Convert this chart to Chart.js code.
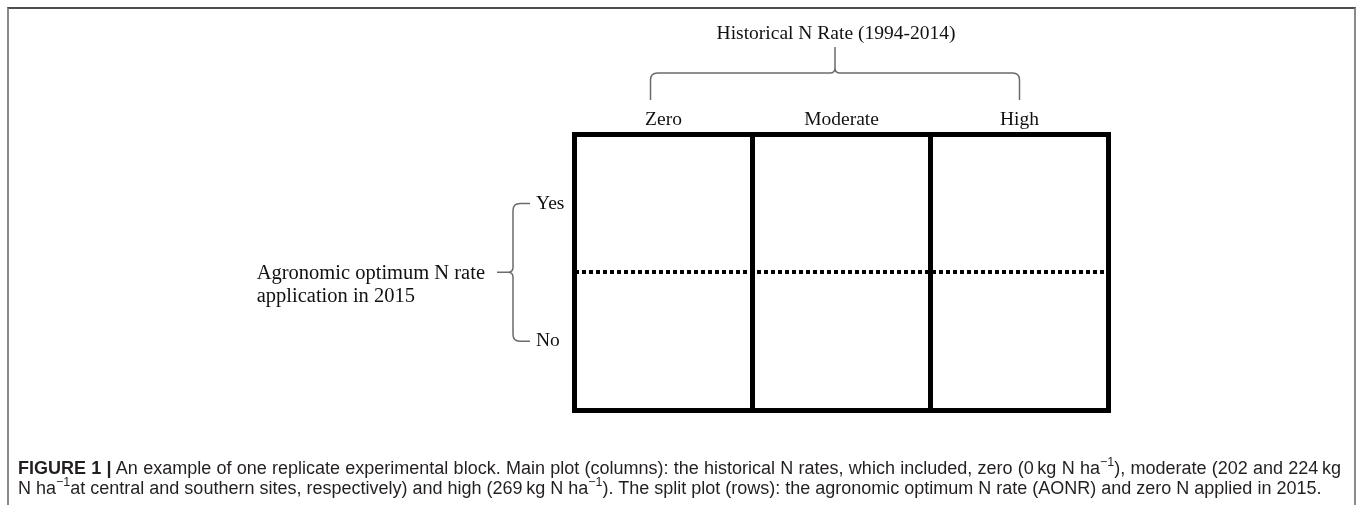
<!DOCTYPE html>
<html>
<head>
<meta charset="utf-8">
<title>Experimental block layout</title>
<script src="https://cdn.jsdelivr.net/npm/chart.js@4.4.0/dist/chart.umd.min.js"></script>
<style>
  html, body { margin: 0; padding: 0; background: #fff; }
  #wrap { position: relative; width: 1358px; height: 505px; overflow: hidden; }
  #chart-box { position: absolute; left: 0; top: 0; width: 1358px; height: 505px; }
  #frame {
    position: absolute; left: 7px; top: 7px; width: 1349px; height: 600px;
    box-sizing: border-box;
    border-top: 2px solid #4f4f4f;
    border-left: 2px solid #8a8a8a;
    border-right: 2px solid #8a8a8a;
    pointer-events: none;
  }
  #caption {
    position: absolute; left: 18px; top: 458px; width: 1323px;
    font-family: 'Liberation Sans', Arial, sans-serif; font-size: 18px;
    line-height: 20px; color: #231f20;
  }
  #caption .l1 { text-align: justify; text-align-last: justify; white-space: nowrap; }
  #caption .l2 { white-space: nowrap; }
  #caption sup { font-size: 12.5px; line-height: 0; position: relative; top: -1px; }
</style>
</head>
<body>
<div id="wrap">
  <div id="chart-box"><canvas id="blockChart"></canvas></div>
  <div id="frame"></div>
  <div id="caption">
    <div class="l1"><b>FIGURE 1 |</b> An example of one replicate experimental block. Main plot (columns): the historical N rates, which included, zero (0&thinsp;kg N ha<sup>−1</sup>), moderate (202 and 224&thinsp;kg</div>
    <div class="l2">N ha<sup>−1</sup>at central and southern sites, respectively) and high (269&thinsp;kg N ha<sup>−1</sup>). The split plot (rows): the agronomic optimum N rate (AONR) and zero N applied in 2015.</div>
  </div>
</div>
<script>
// --- Data ---
const columns = ['Zero', 'Moderate', 'High'];           // main plot: historical N rate
const rows = ['Yes', 'No'];                              // split plot: AONR applied in 2015
const columnTitle = 'Historical N Rate (1994-2014)';
const rowTitle = ['Agronomic optimum N rate', 'application in 2015'];

// one (invisible) point per plot cell so the scales have something to hold
const cells = columns.flatMap(c => rows.map(r => ({ x: c, y: r })));

const SERIF = "'Liberation Serif', 'Times New Roman', serif";
const BRACE_COLOR = '#6b6b6b';

// --- Braces + titles drawn off the scales ---
const bracesPlugin = {
  id: 'braces',
  afterDraw(chart) {
    const { ctx, chartArea, scales: { x, y } } = chart;
    ctx.save();
    ctx.strokeStyle = BRACE_COLOR;
    ctx.lineWidth = 1.5;
    ctx.lineJoin = 'round';
    ctx.fillStyle = '#111';

    // top brace over the three columns
    const left = x.getPixelForValue(0) - 13;
    const right = x.getPixelForValue(columns.length - 1);
    const mid = (left + right) / 2;
    const yEnd = chartArea.top - 34.5;
    const yBar = chartArea.top - 61.5;
    const yTip = chartArea.top - 87.5;
    const r = 7, rc = 5;
    ctx.beginPath();
    ctx.moveTo(left, yEnd);
    ctx.lineTo(left, yBar + r);
    ctx.quadraticCurveTo(left, yBar, left + r, yBar);
    ctx.lineTo(mid - rc, yBar);
    ctx.quadraticCurveTo(mid, yBar, mid, yBar - rc);
    ctx.lineTo(mid, yTip);
    ctx.moveTo(mid, yBar - rc);
    ctx.quadraticCurveTo(mid, yBar, mid + rc, yBar);
    ctx.lineTo(right - r, yBar);
    ctx.quadraticCurveTo(right, yBar, right, yBar + r);
    ctx.lineTo(right, yEnd);
    ctx.stroke();

    ctx.font = '19.5px ' + SERIF;
    ctx.textAlign = 'center';
    ctx.textBaseline = 'alphabetic';
    ctx.fillText(columnTitle, mid + 1, chartArea.top - 96);

    // left brace joining the two rows
    const xV = chartArea.left - 61.5;
    const yTop = y.getPixelForValue(0);
    const yBot = y.getPixelForValue(rows.length - 1);
    const yMid = (yTop + yBot) / 2;
    const stub = xV + 17, tipX = xV - 16;
    ctx.beginPath();
    ctx.moveTo(stub, yTop);
    ctx.lineTo(xV + r, yTop);
    ctx.quadraticCurveTo(xV, yTop, xV, yTop + r);
    ctx.lineTo(xV, yMid - rc);
    ctx.quadraticCurveTo(xV, yMid, xV - rc, yMid);
    ctx.lineTo(tipX, yMid);
    ctx.moveTo(xV - rc, yMid);
    ctx.quadraticCurveTo(xV, yMid, xV, yMid + rc);
    ctx.lineTo(xV, yBot - r);
    ctx.quadraticCurveTo(xV, yBot, xV + r, yBot);
    ctx.lineTo(stub, yBot);
    ctx.stroke();

    ctx.font = '20.5px ' + SERIF;
    ctx.textAlign = 'left';
    const textX = tipX - 12 - ctx.measureText(rowTitle[0]).width;
    ctx.fillText(rowTitle[0], textX, yMid + 7);
    ctx.fillText(rowTitle[1], textX, yMid + 30);
    ctx.restore();
  }
};

// --- Chart ---
const ctx = document.getElementById('blockChart').getContext('2d');
new Chart(ctx, {
  type: 'line',
  data: {
    datasets: [{
      data: cells,
      showLine: false,
      pointRadius: 0,
      pointHoverRadius: 0
    }]
  },
  options: {
    responsive: true,
    maintainAspectRatio: false,
    animation: false,
    events: [],
    layout: { padding: { left: 536, right: 249.5, top: 0, bottom: 95 } },
    plugins: { legend: { display: false }, tooltip: { enabled: false } },
    scales: {
      x: {
        type: 'category',
        labels: columns,
        position: 'top',
        offset: true,
        grid: { offset: true, color: '#000', lineWidth: 5, drawTicks: false },
        border: { display: true, color: '#000', width: 5 },
        ticks: { color: '#111', padding: 3, font: { family: SERIF, size: 19.5 } },
        afterFit: s => { s.height = 134.5; }
      },
      x2: {
        type: 'category',
        labels: columns,
        position: 'bottom',
        offset: true,
        grid: { display: false, lineWidth: 5, drawTicks: false },
        border: { display: true, color: '#000', width: 5 },
        ticks: { display: false },
        afterFit: s => { s.height = 0; }
      },
      y: {
        type: 'category',
        labels: rows,
        position: 'left',
        offset: true,
        grid: {
          offset: true,
          drawTicks: false,
          lineWidth: 4,
          color: c => (c.type === 'tick' && c.index === 1) ? '#000' : 'rgba(0,0,0,0)'
        },
        border: { display: false, dash: [4, 3] },
        ticks: { color: '#111', crossAlign: 'far', font: { family: SERIF, size: 19.5 } },
        afterFit: s => { s.width = 38.5; }
      }
    }
  },
  plugins: [bracesPlugin]
});
</script>
</body>
</html>
